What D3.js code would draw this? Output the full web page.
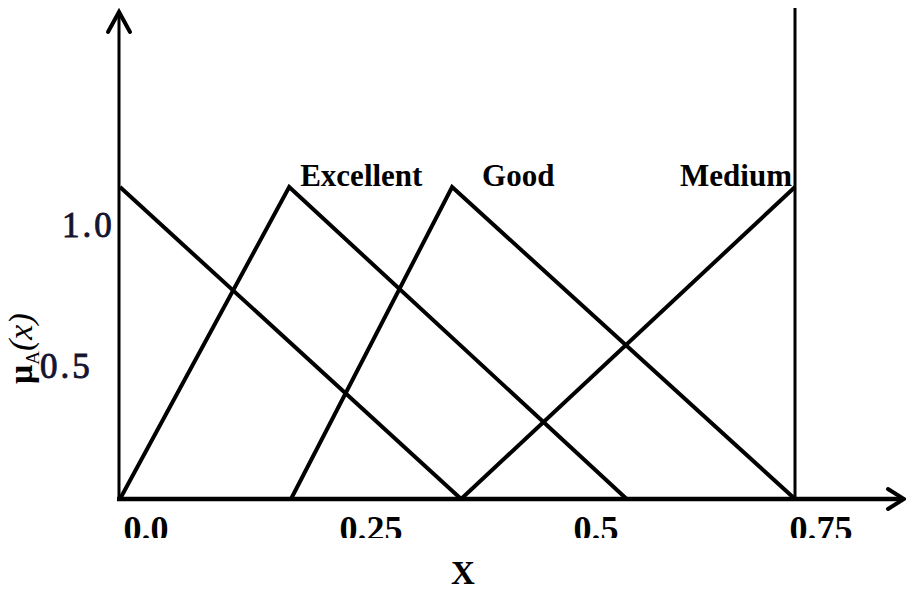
<!DOCTYPE html>
<html>
<head>
<meta charset="utf-8">
<script src="https://cdn.jsdelivr.net/npm/d3@7"></script>
<style>
  html, body { margin: 0; padding: 0; background: #fff; }
  svg { display: block; }
</style>
</head>
<body>
<svg id="chart" width="906" height="593"></svg>
<script>
// Membership functions: [x, μ] vertices for each fuzzy set
const poorSet      = [[0, 1], [0.379, 0]];
const excellentSet = [[0, 0], [0.188, 1], [0.563, 0]];
const goodSet      = [[0.19, 0], [0.369, 1], [0.75, 0]];
const mediumSet    = [[0.379, 0], [0.75, 1]];

const setNames  = ["Excellent", "Good", "Medium"];
const xTicks    = [0, 0.25, 0.5, 0.75];
const xTickText = ["0.0", "0.25", "0.5", "0.75"];
const yTicks    = [1.0, 0.5];
const yTickText = ["1.0", "0.5"];

const svg = d3.select("#chart");

const x = d3.scaleLinear().domain([0, 0.75]).range([120, 795]);
const y = d3.scaleLinear().domain([0, 1]).range([499, 187]);

const line = d3.line().x(d => x(d[0])).y(d => y(d[1]));

const axisColor = "#000";
// y axis with open arrowhead
svg.append("line")
  .attr("x1", 119).attr("x2", 119)
  .attr("y1", y(0) + 2).attr("y2", 12)
  .attr("stroke", axisColor).attr("stroke-width", 3);
svg.append("path")
  .attr("d", "M108,32 L119,12 L130,32")
  .attr("fill", "none").attr("stroke", axisColor)
  .attr("stroke-width", 4).attr("stroke-linecap", "round");

// x axis with open arrowhead
svg.append("line")
  .attr("x1", 117).attr("x2", 903)
  .attr("y1", y(0)).attr("y2", y(0))
  .attr("stroke", axisColor).attr("stroke-width", 4.5);
svg.append("path")
  .attr("d", `M888,${y(0) - 10} L904,${y(0)} L888,${y(0) + 10}`)
  .attr("fill", "none").attr("stroke", axisColor)
  .attr("stroke-width", 4).attr("stroke-linecap", "round");

// right boundary at x = 0.75
svg.append("line")
  .attr("x1", x(0.75)).attr("x2", x(0.75))
  .attr("y1", 8).attr("y2", y(0))
  .attr("stroke", axisColor).attr("stroke-width", 3);

// membership curves
[poorSet, excellentSet, goodSet, mediumSet].forEach(s => {
  svg.append("path")
    .attr("d", line(s))
    .attr("fill", "none")
    .attr("stroke", "#000")
    .attr("stroke-width", 4)
    .attr("stroke-linejoin", "miter");
});

// set labels near the peaks
const serif = "'Liberation Serif', 'Times New Roman', serif";
const peaks = [excellentSet[1], goodSet[1], mediumSet[1]];
const labelShift = [11, 30, -3];
const labelAnchor = ["start", "start", "end"];
setNames.forEach((name, i) => {
  svg.append("text")
    .attr("x", x(peaks[i][0]) + labelShift[i])
    .attr("y", y(peaks[i][1]) - 1)
    .attr("text-anchor", labelAnchor[i])
    .attr("font-family", serif)
    .attr("font-weight", "bold")
    .attr("font-size", 31)
    .text(name);
});

// x tick labels (clipped at the bottom edge)
svg.append("defs").append("clipPath").attr("id", "tickClip")
  .append("rect").attr("x", 0).attr("y", 0).attr("width", 906).attr("height", 538);
const xt = svg.append("g").attr("clip-path", "url(#tickClip)");
xTicks.forEach((v, i) => {
  xt.append("text")
    .attr("x", x(v) + 26)
    .attr("y", 541)
    .attr("text-anchor", "middle")
    .attr("font-family", serif)
    .attr("font-weight", "bold")
    .attr("font-size", 36)
    .text(xTickText[i]);
});

// x axis title
svg.append("text")
  .attr("x", 463).attr("y", 584)
  .attr("text-anchor", "middle")
  .attr("font-family", serif)
  .attr("font-weight", "bold")
  .attr("font-size", 33)
  .text("X");

// y tick labels
const yLabelPos = d3.scaleLinear().domain([0.5, 1]).range([[40, 378], [62, 237]]);
yTicks.forEach((v, i) => {
  const p = yLabelPos(v);
  svg.append("text")
    .attr("x", p[0]).attr("y", p[1])
    .attr("font-family", serif)
    .attr("font-size", 35)
    .attr("letter-spacing", 3)
    .attr("fill", "#141430")
    .attr("stroke", "#141430")
    .attr("stroke-width", 0.9)
    .text(yTickText[i]);
});

// y axis title μA(x)
const yt = svg.append("text")
  .attr("transform", "translate(32,384) rotate(-90)")
  .attr("font-family", serif)
  .attr("font-size", 34);
yt.append("tspan").attr("font-weight", "bold").text("μ");
yt.append("tspan").attr("font-size", 19).attr("dy", 7).text("A");
yt.append("tspan").attr("dy", -7).attr("font-style", "italic").text("(x)");
</script>
</body>
</html>
